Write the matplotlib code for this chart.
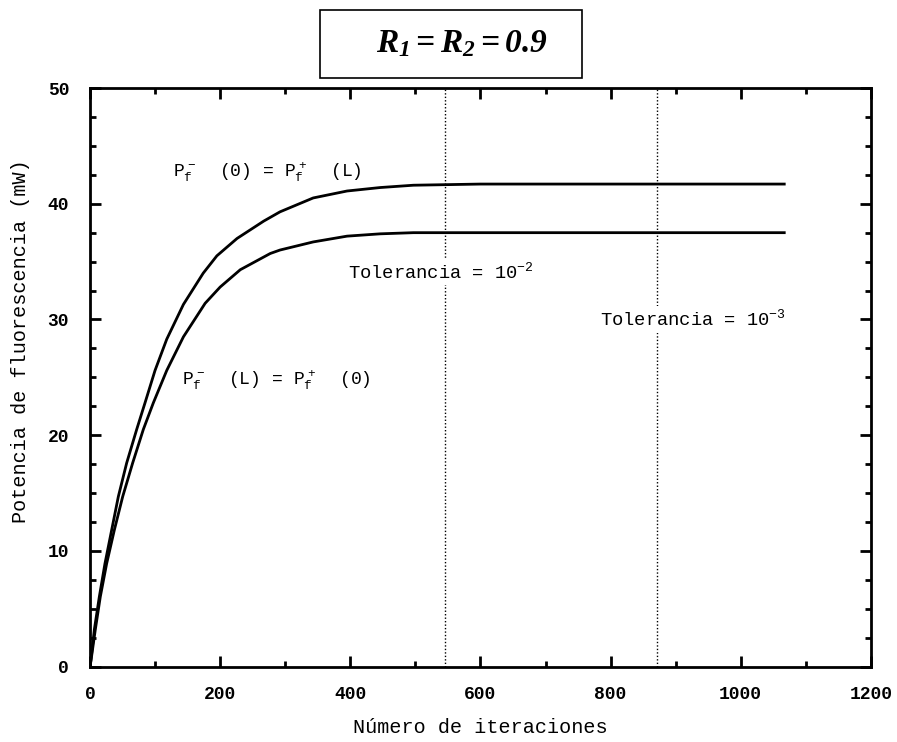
import matplotlib
matplotlib.use("Agg")
import matplotlib.pyplot as plt
from matplotlib.patches import Rectangle
from matplotlib.ticker import MultipleLocator

plt.rcParams['font.family'] = ['Liberation Mono', 'DejaVu Sans']
plt.rcParams['mathtext.fontset'] = 'custom'
plt.rcParams['mathtext.rm'] = 'Liberation Serif:italic:bold'
plt.rcParams['mathtext.it'] = 'Liberation Serif:italic:bold'
plt.rcParams['mathtext.sf'] = 'Liberation Mono'

# curves
iter_upper = [0, 1.5, 6.7, 14.4, 23, 33.3, 43.6, 56.4, 71.8, 84.6, 100, 118, 143.6, 174, 195, 226,
              267, 292, 343, 395, 446, 497, 600, 800, 1069]
p_upper = [0, 0.6, 3.2, 6.05, 8.9, 11.8, 14.7, 17.6, 20.5, 22.8, 25.6, 28.3, 31.3, 34.0, 35.5, 37.0,
           38.5, 39.3, 40.5, 41.1, 41.4, 41.6, 41.7, 41.7, 41.7]
iter_lower = [0, 1.5, 8.2, 15.9, 25.6, 37.4, 50.3, 65.6, 82, 97.4, 118, 143.6, 177, 200, 231, 277,
              292, 343, 395, 446, 497, 600, 800, 1069]
p_lower = [0, 0.5, 3.2, 6.05, 8.9, 11.8, 14.7, 17.6, 20.5, 22.8, 25.6, 28.5, 31.4, 32.8, 34.3, 35.7,
           36.0, 36.7, 37.2, 37.4, 37.5, 37.5, 37.5, 37.5]

tol_iters = [545, 871]
tol_labels = [r'Tolerancia = 10$\mathsf{^{-2}}$', r'Tolerancia = 10$\mathsf{^{-3}}$']

fig = plt.figure(figsize=(8.97, 7.42), dpi=100)
ax = fig.add_axes([0.1003, 0.1015, 0.8706, 0.7799])

ax.plot(iter_upper, p_upper, color='black', lw=2.0, solid_capstyle='butt', solid_joinstyle='round')
ax.plot(iter_lower, p_lower, color='black', lw=2.0, solid_capstyle='butt', solid_joinstyle='round')

for xv in tol_iters:
    ax.axvline(xv, color='black', lw=1.0, ls=(0, (1, 1.5)), zorder=1)

ax.text(396, 34.1, tol_labels[0], fontsize=13.5, va='center', ha='left',
        bbox=dict(facecolor='white', edgecolor='none', pad=2), zorder=3)
ax.text(784, 30.0, tol_labels[1], fontsize=13.5, va='center', ha='left',
        bbox=dict(facecolor='white', edgecolor='none', pad=2), zorder=3)

ax.text(128, 42.7, r'$\mathsf{P_f^{\,-}}$  (0) = $\mathsf{P_f^{\,+}}$  (L)', fontsize=13, va='center', ha='left')
ax.text(141, 24.8, r'$\mathsf{P_f^{\,-}}$  (L) = $\mathsf{P_f^{\,+}}$  (0)', fontsize=13, va='center', ha='left')

ax.set_xlim(0, 1200)
ax.set_ylim(0, 50)
ax.xaxis.set_major_locator(MultipleLocator(200))
ax.xaxis.set_minor_locator(MultipleLocator(100))
ax.yaxis.set_major_locator(MultipleLocator(10))
ax.yaxis.set_minor_locator(MultipleLocator(2.5))
ax.tick_params(which='both', direction='in', top=True, right=True, width=2, labelsize=13)
ax.tick_params(which='major', length=8)
ax.tick_params(axis='x', which='major', pad=14)
ax.tick_params(axis='y', which='major', pad=15)
ax.tick_params(which='minor', length=4)
for lab in ax.get_xticklabels() + ax.get_yticklabels():
    lab.set_fontweight('bold')
for s in ax.spines.values():
    s.set_linewidth(2)

ax.set_xlabel('Número de iteraciones', fontsize=14.5, labelpad=11)
ax.set_ylabel('Potencia de fluorescencia (mW)', fontsize=14.5)
ax.yaxis.set_label_coords(-0.077, 0.562)

fig.patches.append(Rectangle((320 / 897, 1 - 78 / 742), 262 / 897, 68 / 742,
                             transform=fig.transFigure, fill=False, lw=1.2, ec='black'))
fig.text(462 / 897, 1 - 44 / 742, r'$R_1 = R_2 = 0.9$', fontsize=24, ha='center', va='center')

fig.savefig('out.png', dpi=100)
